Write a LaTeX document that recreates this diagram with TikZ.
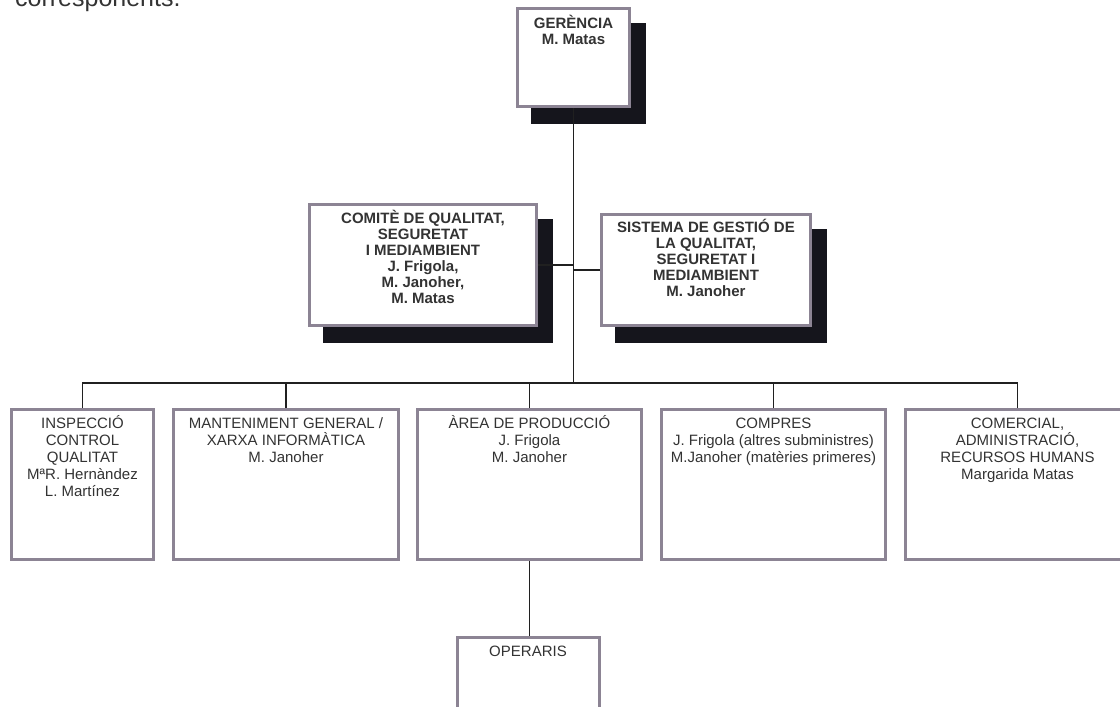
\documentclass[tikz,border=0pt]{standalone}
\usepackage{fontspec}
\setmainfont{Liberation Sans}
\usetikzlibrary{shadows}
\definecolor{boxgray}{HTML}{8C8494}
\definecolor{shadowc}{HTML}{15151C}
\definecolor{linec}{HTML}{202020}
\definecolor{txt}{HTML}{333333}
\newcommand{\boxtxt}[4]{\parbox[c][#2pt][t]{#1pt}{\centering\vspace*{#3pt}\rule{0pt}{14pt}#4\par}}
\begin{document}
\begin{tikzpicture}[x=1pt,y=-1pt,
  box/.style={draw=boxgray, line width=3pt, fill=white, inner sep=0pt, rectangle},
  sbox/.style={box, general shadow={fill=shadowc, draw=shadowc, line width=3pt, shadow xshift=15pt, shadow yshift=-16pt}},
  conn/.style={draw=linec, line width=1.6pt},
  toptext/.style={font=\bfseries\fontsize{15}{16}\selectfont, text=txt},
  lowtext/.style={font=\fontsize{15}{17}\selectfont, text=txt}]
\useasboundingbox (0,0) rectangle (1120,707);
\clip (0,0) rectangle (1120,707);
\fill[white] (0,0) rectangle (1120,707);
% cut-off text at the top
\node[anchor=base west, inner sep=0pt, font=\fontsize{25}{25}\selectfont, text=txt] (ct) at (15,6) {corresponents.};
% top boxes
\node[sbox, toptext] (ger) at (573.5,57.5) {\boxtxt{112}{98}{5.5}{GERÈNCIA\\M. Matas}};
\node[sbox, toptext] (com) at (423,265) {\boxtxt{227}{121}{5}{COMITÈ DE QUALITAT,\\SEGURETAT\\I MEDIAMBIENT\\J. Frigola,\\M. Janoher,\\M. Matas}};
\node[sbox, toptext] (sis) at (706,270) {\boxtxt{209}{111}{3.5}{SISTEMA DE GESTIÓ DE\\LA QUALITAT,\\SEGURETAT I\\MEDIAMBIENT\\M. Janoher}};
% bottom boxes
\node[box, lowtext] (b1) at (82.5,484.5) {\boxtxt{142}{150}{4.5}{INSPECCIÓ\\CONTROL\\QUALITAT\\MªR. Hernàndez\\L. Martínez}};
\node[box, lowtext] (b2) at (286,484.5) {\boxtxt{225}{150}{4.5}{MANTENIMENT GENERAL /\\XARXA INFORMÀTICA\\M. Janoher}};
\node[box, lowtext] (b3) at (529.5,484.5) {\boxtxt{224}{150}{4.5}{ÀREA DE PRODUCCIÓ\\J. Frigola\\M. Janoher}};
\node[box, lowtext] (b4) at (773.5,484.5) {\boxtxt{224}{150}{4.5}{COMPRES\\J. Frigola (altres subministres)\\M.Janoher (matèries primeres)}};
\node[box, lowtext] (b5) at (1017.5,484.5) {\boxtxt{224}{150}{4.5}{COMERCIAL,\\ADMINISTRACIÓ,\\RECURSOS HUMANS\\Margarida Matas}};
\node[box, lowtext] (op) at (528,712.5) {\boxtxt{142}{150}{4.5}{OPERARIS}};
% connectors
\coordinate (busc) at (573.5,383);
\draw[conn] (ger.south) -- (busc);
\draw[conn] (com.east) -- (com.east -| busc);
\draw[conn] (sis.west) -- (sis.west -| busc);
\draw[conn] (b1.north) |- (busc);
\draw[conn] (b2.north) |- (busc);
\draw[conn] (b3.north) |- (busc);
\draw[conn] (b4.north) |- (busc);
\draw[conn] (b5.north) |- (busc);
\draw[conn] (b3.south) -- (b3.south |- op.north);
\end{tikzpicture}
\end{document}
